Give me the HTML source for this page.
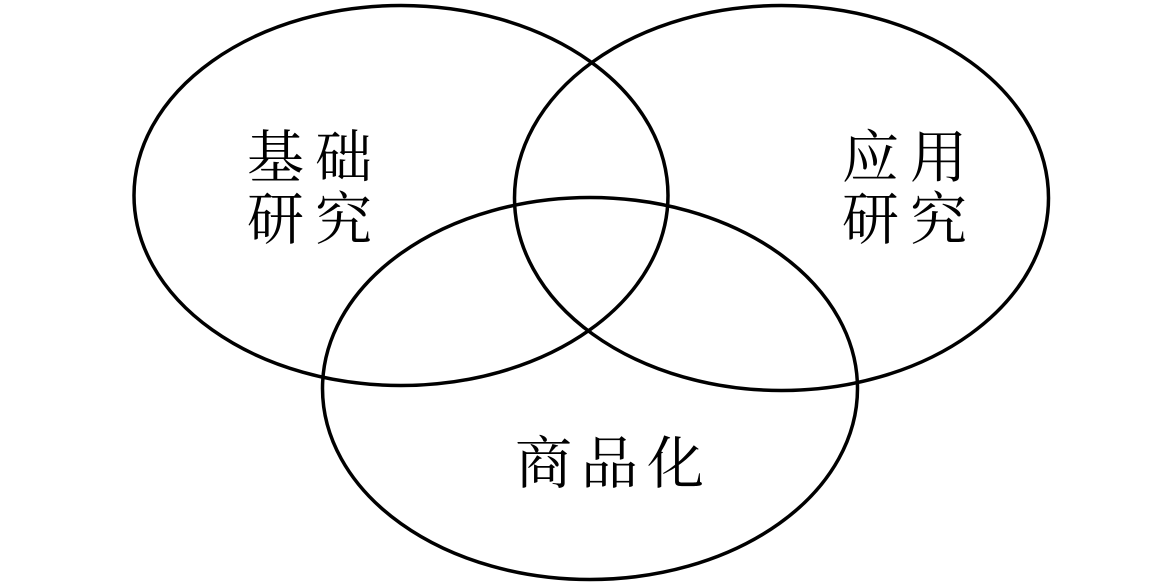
<!DOCTYPE html>
<html><head><meta charset="utf-8"><style>
html,body{margin:0;padding:0;background:#fff;width:1165px;height:584px;overflow:hidden}
svg{display:block}
text{font-family:"Liberation Serif","Noto Serif CJK SC",serif;font-size:57px;fill:#000}
</style></head><body>
<svg width="1165" height="584" viewBox="0 0 1165 584">
<g fill="none" stroke="#000" stroke-width="3.5">
<ellipse cx="401" cy="195.5" rx="267" ry="190"/>
<ellipse cx="781.5" cy="198" rx="267" ry="192.5"/>
<ellipse cx="590" cy="388.5" rx="267.5" ry="191"/>
</g>
<text x="247" y="177" letter-spacing="11">基础</text>
<text x="247" y="239" letter-spacing="11">研究</text>
<text x="842" y="177" letter-spacing="11">应用</text>
<text x="842" y="239" letter-spacing="11">研究</text>
<text x="515" y="483" letter-spacing="9">商品化</text>
</svg>
</body></html>
